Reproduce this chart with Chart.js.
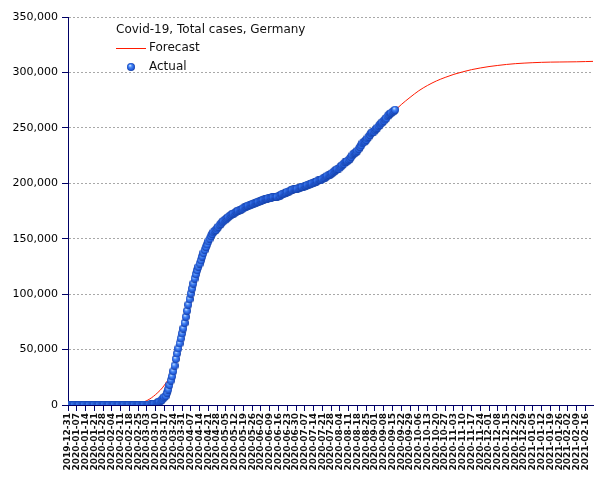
<!DOCTYPE html>
<html>
<head>
<meta charset="utf-8">
<script src="https://cdn.jsdelivr.net/npm/chart.js@4.4.0/dist/chart.umd.min.js"></script>
<style>
  html, body { margin: 0; padding: 0; background: #fff; }
  #wrap { width: 605px; height: 480px; }
</style>
</head>
<body>
<div id="wrap"><canvas id="chart" width="605" height="480"></canvas></div>
<script>
// =====================
// data (day 0 = 2019-12-31)
// =====================
const chartTitle = 'Covid-19, Total cases, Germany';

const weekLabels = [
  '2019-12-31', '2020-01-07', '2020-01-14', '2020-01-21', '2020-01-28', '2020-02-04', '2020-02-11',
  '2020-02-18', '2020-02-25', '2020-03-03', '2020-03-10', '2020-03-17', '2020-03-24', '2020-03-31',
  '2020-04-07', '2020-04-14', '2020-04-21', '2020-04-28', '2020-05-05', '2020-05-12', '2020-05-19',
  '2020-05-26', '2020-06-02', '2020-06-09', '2020-06-16', '2020-06-23', '2020-06-30', '2020-07-07',
  '2020-07-14', '2020-07-21', '2020-07-28', '2020-08-04', '2020-08-11', '2020-08-18', '2020-08-25',
  '2020-09-01', '2020-09-08', '2020-09-15', '2020-09-22', '2020-09-29', '2020-10-06', '2020-10-13',
  '2020-10-20', '2020-10-27', '2020-11-03', '2020-11-10', '2020-11-17', '2020-11-24', '2020-12-01',
  '2020-12-08', '2020-12-15', '2020-12-22', '2020-12-29', '2021-01-05', '2021-01-12', '2021-01-19',
  '2021-01-26', '2021-02-02', '2021-02-09', '2021-02-16'
];

// daily actual totals, one array per month
const dec31 = [0];
const jan = [0,0,0,0,0,0,0,0,0,0, 0,0,0,0,0,0,0,0,0,0, 0,0,0,0,0,0, 1,4,4,4,5];
const feb = [8,10,12,12,12,12,13,13,14,14, 16,16,16,16,16,16,16,16,16,16, 16,16,16,16,17,27,46,48,79];
const mar = [117,150,188,240,400,639,795,902,1139,1296, 1567,2369,3062,3795,4838,6012,7156,8198,10999,13957,
  18000,22000,25800,30500,35500,41500,46500,51000,55500,60000,64500];
const apr = [69000,74000,79500,85000,90500,95500,100500,105000,109500,114000,
  118000,121500,124500,127500,130500,133800,137000,139800,142500,144800,
  147500,150000,152300,154200,155800,157000,158000,159300,160800,162300];
const may = [163600,164800,165800,166700,167600,168600,169600,170600,171400,172100,
  172700,173300,174100,174700,175300,175800,176300,176700,177500,178200,
  178800,179400,179900,180300,180700,181100,181500,182000,182500,182900,183200];
const jun = [183594,184121,184472,184924,185450,185750,186109,186506,186522,186691,
  187226,187267,187518,187682,187764,188252,188604,189817,190299,190670,
  190862,191449,192480,192556,193243,193499,194036,194458,194693,194725];
const jul = [195100,195500,196000,196500,196800,197100,197600,198000,198400,198900,
  199300,199600,199900,200400,200800,201400,202100,202600,203000,203300,
  203900,204500,205200,206100,206900,207400,207800,208600,209400,210400,211400];
const aug = [212300,212800,213300,214300,215300,216400,217600,218800,219500,220000,
  221000,222300,223800,225300,226800,227500,228100,229500,231000,232700,
  234200,236200,237000,237700,239000,240600,242100,243700,245200,246000,246600];
const sep = [247800,249000,250300,251600,253000,254100,254900,256400,257600,258600,
  260500,261800,262900,263500,264400,265300,266300];

const actualCases = [].concat(dec31, jan, feb, mar, apr, may, jun, jul, aug, sep);

// forecast, one value per week (same dates as weekLabels, plus one more week)
const forecastCases = [
  0, 0, 0, 0, 0, 50, 150, 400, 1200, 4000,
  9500, 18000, 32000, 58000, 92000, 124000, 147000, 161000, 169500, 174500,
  178000, 180800, 183000, 185000, 187000, 189300, 192000, 195200, 199000, 203500,
  208800, 215000, 222000, 229800, 238000, 246500, 255000, 263500, 271000, 277500,
  283500, 288300, 292300, 295500, 298300, 300500, 302500, 304000, 305300, 306300,
  307200, 307900, 308400, 308800, 309100, 309300, 309400, 309500, 309600, 309800,
  310000
];

const axisColor = '#000066';
const forecastColor = '#ff1a00';

// 立體藍色圓點
function makeBall(size) {
  const c = document.createElement('canvas');
  c.width = size; c.height = size;
  const g = c.getContext('2d');
  const r = size / 2;
  const grad = g.createRadialGradient(r * 0.75, r * 0.6, 0.3, r, r, r);
  grad.addColorStop(0, '#c8e0ff');
  grad.addColorStop(0.35, '#4a8af5');
  grad.addColorStop(0.8, '#2058d8');
  grad.addColorStop(1, '#143c9c');
  g.fillStyle = grad;
  g.beginPath();
  g.arc(r, r, r, 0, Math.PI * 2);
  g.fill();
  return c;
}
const ball = makeBall(8);

// legend drawn inside the plot
const insideLegend = {
  id: 'insideLegend',
  afterDraw(chart) {
    const ctx = chart.ctx;
    const ds = chart.data.datasets;
    ctx.save();
    ctx.font = '12px "DejaVu Sans"';
    ctx.fillStyle = '#111';
    ctx.textBaseline = 'middle';
    ctx.fillText(chartTitle, 116, 30);
    ctx.strokeStyle = forecastColor;
    ctx.lineWidth = 1;
    ctx.beginPath();
    ctx.moveTo(116, 48.5);
    ctx.lineTo(146, 48.5);
    ctx.stroke();
    ctx.fillText(ds[1].label, 149, 48);
    ctx.drawImage(ball, 127, 63);
    ctx.fillText(ds[0].label, 149, 67);
    ctx.restore();
  }
};

new Chart(document.getElementById('chart'), {
  type: 'line',
  data: {
    datasets: [
      {
        label: 'Actual',
        data: actualCases.map((v, i) => ({ x: i, y: v })),
        showLine: false,
        pointStyle: ball,
        pointRadius: 4,
        order: 0,
      },
      {
        label: 'Forecast',
        data: forecastCases.map((v, i) => ({ x: i * 7, y: v })),
        borderColor: forecastColor,
        borderWidth: 1,
        pointRadius: 0,
        cubicInterpolationMode: 'monotone',
        fill: false,
        order: 1,
      }
    ]
  },
  options: {
    responsive: false,
    animation: false,
    layout: { padding: { top: 17, right: 12, left: 0, bottom: 0 } },
    plugins: {
      legend: { display: false },
      tooltip: { enabled: false },
      title: { display: false },
    },
    scales: {
      x: {
        type: 'linear',
        min: 0,
        max: 419,
        afterFit: s => { s.height = 75; },
        grid: { drawOnChartArea: false, tickColor: axisColor, tickLength: 6 },
        border: { color: axisColor },
        ticks: {
          stepSize: 7,
          includeBounds: false,
          autoSkip: false,
          minRotation: 90,
          maxRotation: 90,
          padding: 2,
          color: '#111',
          font: { family: 'DejaVu Sans', size: 9, weight: 'bold' },
          callback: v => weekLabels[v / 7] || '',
        }
      },
      y: {
        min: 0,
        max: 350000,
        afterFit: s => { s.width = 68; },
        grid: { color: '#a8a8a8', tickColor: axisColor, tickLength: 6, tickBorderDash: [] },
        border: { color: axisColor, dash: [2, 2] },
        ticks: {
          stepSize: 50000,
          padding: 4,
          color: '#000',
          font: { family: 'DejaVu Sans', size: 11 },
          callback: v => v.toLocaleString('en-US'),
        }
      }
    }
  },
  plugins: [insideLegend]
});
</script>
</body>
</html>
